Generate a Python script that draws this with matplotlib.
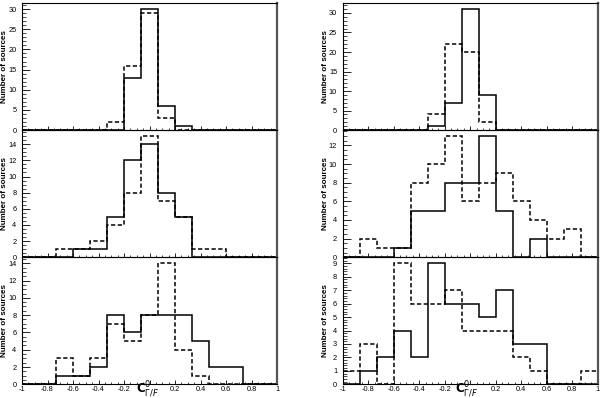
import numpy as np
import matplotlib
matplotlib.use("Agg")
import matplotlib.pyplot as plt
from matplotlib.ticker import MultipleLocator, FixedLocator, FuncFormatter

plt.rcParams['font.family'] = ['Liberation Sans', 'DejaVu Sans']
plt.rcParams['axes.unicode_minus'] = False

# 15 equal bins between -1 and 1
bin_edges = np.linspace(-1.0, 1.0, 16)

# Left column (solid / dashed), top -> bottom
left_top_solid   = [0, 0, 0, 0, 0, 0, 13, 30, 6, 1, 0, 0, 0, 0, 0]
left_top_dashed  = [0, 0, 0, 0, 0, 2, 16, 29, 3, 0, 0, 0, 0, 0, 0]
left_mid_solid   = [0, 0, 0, 1, 1, 5, 12, 14, 8, 5, 0, 0, 0, 0, 0]
left_mid_dashed  = [0, 0, 1, 1, 2, 4, 8, 15, 7, 5, 1, 1, 0, 0, 0]
left_bot_solid   = [0, 0, 1, 1, 2, 8, 6, 8, 8, 8, 5, 2, 2, 0, 0]
left_bot_dashed  = [0, 0, 3, 1, 3, 7, 5, 8, 14, 4, 1, 0, 0, 0, 0]

# Right column
right_top_solid  = [0, 0, 0, 0, 0, 1, 7, 31, 9, 0, 0, 0, 0, 0, 0]
right_top_dashed = [0, 0, 0, 0, 0, 4, 22, 20, 2, 0, 0, 0, 0, 0, 0]
right_mid_solid  = [0, 0, 0, 1, 5, 5, 8, 8, 13, 5, 0, 2, 0, 0, 0]
right_mid_dashed = [0, 2, 1, 1, 8, 10, 13, 6, 8, 9, 6, 4, 2, 3, 0]
right_bot_solid  = [0, 1, 2, 4, 2, 9, 6, 6, 5, 7, 3, 3, 0, 0, 0]
right_bot_dashed = [1, 3, 0, 9, 6, 6, 7, 4, 4, 4, 2, 1, 0, 0, 1]

x_ticks = [-1, -0.8, -0.6, -0.4, -0.2, 0, 0.2, 0.4, 0.6, 0.8, 1]
ylabel = "Number of sources"
xlabel = r"$\mathbf{C}^{0}_{\Gamma/F}$"

panels = [
    [(left_top_solid, left_top_dashed, 5, 1),
     (left_mid_solid, left_mid_dashed, 2, 0.5),
     (left_bot_solid, left_bot_dashed, 2, 0.5)],
    [(right_top_solid, right_top_dashed, 5, 1),
     (right_mid_solid, right_mid_dashed, 2, 0.5),
     (right_bot_solid, right_bot_dashed, 1, 0.2)],
]

W, H = 600, 398
fig = plt.figure(figsize=(6.0, 3.98), dpi=100)

col_x = [(22.0, 277.0), (342.7, 597.7)]
row_y = [3.0, 130.1, 257.2, 384.3]
label_x = [5.0, 325.5]
title_cx = [147.5, 466.0]

def fmt(v, pos):
    if abs(v) < 1e-9:
        return ""
    return "%g" % v

for c in range(2):
    x0, x1 = col_x[c]
    for r in range(3):
        solid, dashed, major, minor = panels[c][r]
        yt, yb = row_y[r], row_y[r + 1]
        ax = fig.add_axes([x0 / W, 1 - yb / H, (x1 - x0) / W, (yb - yt) / H])
        ax.stairs(dashed, bin_edges, color='black', lw=1.1, linestyle=(0, (2.8, 1.6)), baseline=0)
        ax.stairs(solid, bin_edges, color='black', lw=1.1, baseline=0)
        ymax = 1.05 * max(max(solid), max(dashed))
        ax.set_xlim(-1, 1)
        ax.set_ylim(0, ymax)
        ax.xaxis.set_major_locator(FixedLocator(x_ticks))
        ax.xaxis.set_minor_locator(MultipleLocator(0.05))
        ax.yaxis.set_major_locator(MultipleLocator(major))
        ax.yaxis.set_minor_locator(MultipleLocator(minor))
        ax.tick_params(axis='both', which='both', direction='in', colors='black',
                       labelsize=5.3, top=False, right=False)
        ax.tick_params(axis='y', which='major', length=6, width=0.6, pad=4)
        ax.tick_params(axis='y', which='minor', length=3, width=0.5)
        ax.tick_params(axis='x', which='major', length=3, width=0.6, pad=1.5)
        ax.tick_params(axis='x', which='minor', length=1.5, width=0.5)
        if r < 2:
            ax.tick_params(axis='x', labelbottom=False)
        else:
            ax.xaxis.set_major_formatter(FuncFormatter(fmt))
        for side in ['left', 'bottom', 'top']:
            ax.spines[side].set_linewidth(0.8)
            ax.spines[side].set_color('black')
        ax.spines['right'].set_linewidth(1.6)
        ax.spines['right'].set_color('#555555')
        ax.patch.set_alpha(0)
        fig.text(label_x[c] / W, 1 - (yt + yb) / 2 / H, ylabel, rotation=90,
                 ha='center', va='center', fontsize=5.8, fontweight='bold')
    fig.text(title_cx[c] / W, 1 - 392.0 / H, xlabel, ha='center', va='baseline',
             fontsize=8.5)

fig.savefig("out.png", dpi=100)
